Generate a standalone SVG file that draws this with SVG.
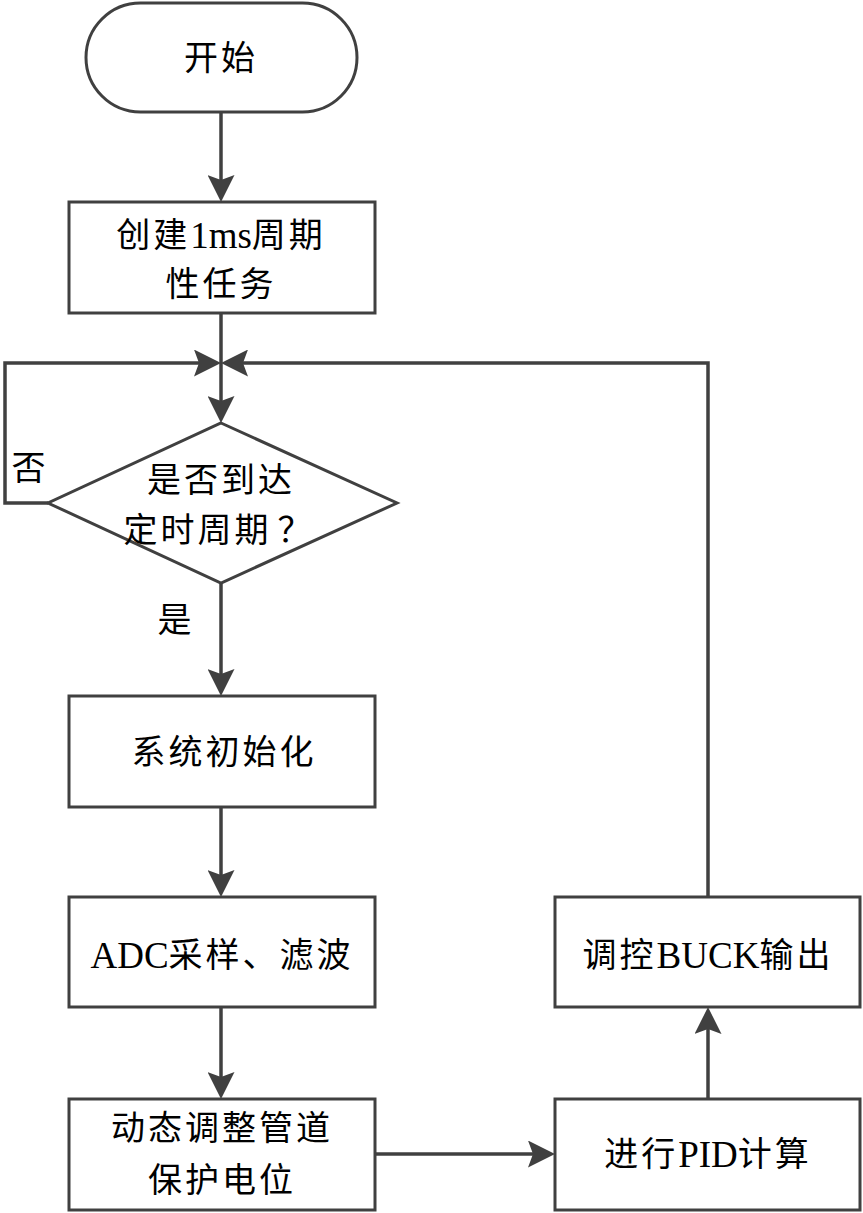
<svg xmlns="http://www.w3.org/2000/svg" width="863" height="1213" viewBox="0 0 863 1213">
<style>
.shape{fill:#fff;stroke:#404040;stroke-width:3}
.conn{fill:none;stroke:#404040;stroke-width:3.5;marker-end:url(#arr)}
text{font-family:"Liberation Serif","Noto Sans CJK SC",serif;font-size:34px;fill:#000;text-anchor:middle;dominant-baseline:central;letter-spacing:3px}
.lat{font-size:37px;letter-spacing:0}
</style>
<defs>
<marker id="arr" markerUnits="userSpaceOnUse" markerWidth="27" markerHeight="27" viewBox="0 0 27 27" refX="21" refY="13.5" orient="auto">
<path d="M0,0 L27,13.5 L0,27 L5,13.5 z" fill="#404040"/>
</marker>
</defs>
<rect width="863" height="1213" fill="#fff"/>
<g id="connectors">
<path class="conn" d="M221,112 V196"/>
<path class="conn" d="M221,313 V417"/>
<path class="conn" d="M48,503 H5 V363 H215"/>
<path class="conn" d="M708,897 V363 H227"/>
<path class="conn" d="M221,583 V690"/>
<path class="conn" d="M221,807 V891"/>
<path class="conn" d="M221,1007 V1093"/>
<path class="conn" d="M375,1154 H549"/>
<path class="conn" d="M708,1099 V1013"/>
</g>
<g id="start">
<rect class="shape" x="86" y="3" width="271" height="109" rx="54.5" ry="54.5"/>
<text x="221" y="58">开始</text>
</g>
<g id="create-task">
<rect class="shape" x="69" y="202" width="306" height="111"/>
<text x="221" y="235">创建<tspan class="lat">1ms</tspan>周期</text>
<text x="221" y="284">性任务</text>
</g>
<g id="decision">
<polygon class="shape" points="221,423 397,503 221,583 48,503"/>
<text x="221" y="480">是否到达</text>
<text x="219" y="530">定时周期<tspan dx="6">？</tspan></text>
</g>
<text x="30" y="468">否</text>
<text x="176" y="620">是</text>
<g id="init">
<rect class="shape" x="69" y="696" width="306" height="111"/>
<text x="224" y="752">系统初始化</text>
</g>
<g id="adc">
<rect class="shape" x="69" y="897" width="306" height="110"/>
<text x="222" y="955"><tspan class="lat">ADC</tspan>采样、滤波</text>
</g>
<g id="adjust">
<rect class="shape" x="69" y="1099" width="306" height="111"/>
<text x="222" y="1128">动态调整管道</text>
<text x="222" y="1180">保护电位</text>
</g>
<g id="pid">
<rect class="shape" x="555" y="1099" width="305" height="111"/>
<text x="708" y="1154">进行<tspan class="lat">PID</tspan>计算</text>
</g>
<g id="buck">
<rect class="shape" x="555" y="897" width="305" height="110"/>
<text x="708" y="955">调控<tspan class="lat">BUCK</tspan>输出</text>
</g>
</svg>
